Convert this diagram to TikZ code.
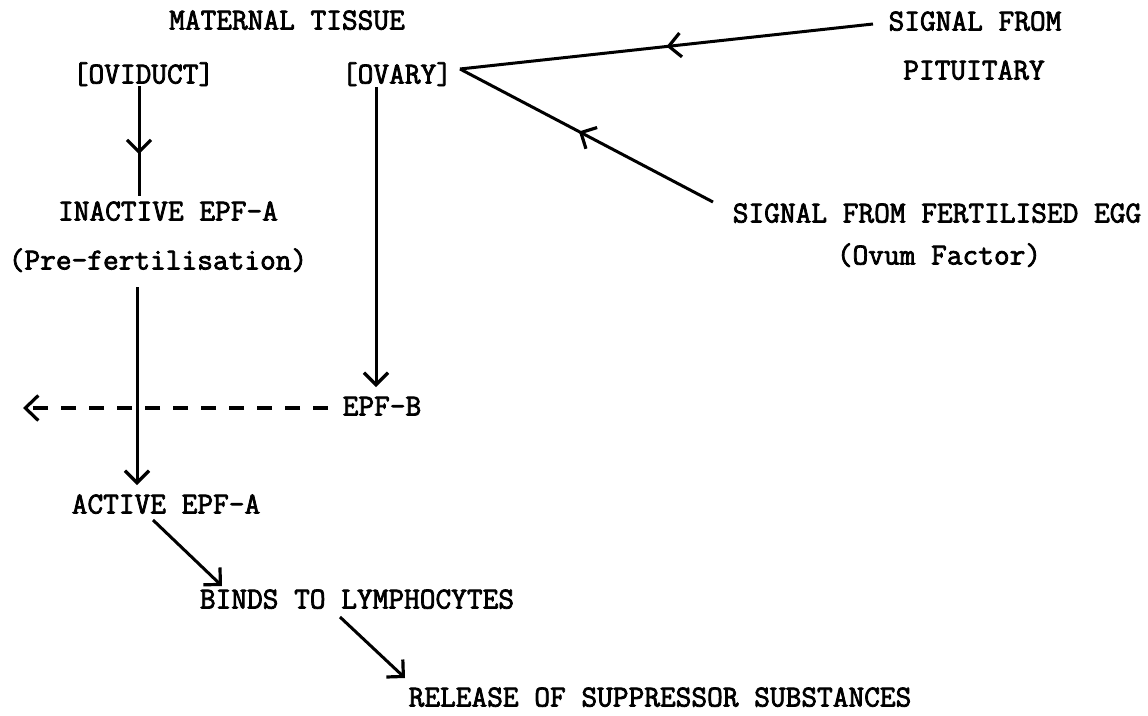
\documentclass[tikz,border=0pt]{standalone}
\usepackage{fontspec}
\newfontfamily\tw{Latin Modern Mono}[FakeBold=2.5]
\usetikzlibrary{arrows.meta,decorations.markings}
\tikzset{
  lbl/.style={inner sep=0pt, text height=15pt, text depth=0pt, font=\tw\fontsize{30.5}{34}\selectfont},
  ln/.style={line width=3pt},
  tip/.style={-{Straight Barb[length=12pt,width=24pt,line width=3.2pt]}},
  midtip/.style={postaction={decorate}, decoration={markings, mark=at position #1 with {\arrow{Straight Barb[length=12pt,width=24pt,line width=3.2pt]}}}},
  dsh/.style={line width=3.8pt, dash pattern=on 15pt off 13pt}
}
\begin{document}
\begin{tikzpicture}[x=1pt,y=-1pt]
\useasboundingbox (0,0) rectangle (1148,715);
\node[lbl] (mat) at (287,22) {MATERNAL TISSUE};
\node[lbl] (ovid) at (143.5,76) {[OVIDUCT]};
\node[lbl] (ovary) at (397,76) {[OVARY]};
\node[lbl] (pit1) at (975,23) {SIGNAL FROM};
\node[lbl] (pit2) at (974,72) {PITUITARY};
\node[lbl] (inact) at (168,213) {INACTIVE EPF-A};
\node[lbl] (pref) at (158,262) {(Pre-fertilisation)};
\node[lbl] (egg) at (937,215) {SIGNAL FROM FERTILISED EGG};
\node[lbl] (ovum) at (939,257) {(Ovum Factor)};
\node[lbl] (epfb) at (382,408) {EPF-B};
\node[lbl] (act) at (166,506) {ACTIVE EPF-A};
\node[lbl] (binds) at (357,601) {BINDS TO LYMPHOCYTES};
\node[lbl] (rel) at (660,699) {RELEASE OF SUPPRESSOR SUBSTANCES};

\coordinate (ovJ) at ([xshift=63pt,yshift=7pt]ovary.center);
\coordinate (dashEnd) at ([xshift=-359pt]epfb.center);
\coordinate (ovidOut) at ([xshift=-4.5pt,yshift=-10pt]ovid.center);
\coordinate (inactIn) at ([xshift=-29pt,yshift=17pt]inact.center);
\coordinate (ovaryOut) at ([xshift=-21pt,yshift=-11pt]ovary.center);
\coordinate (epfbIn) at ([xshift=-6pt,yshift=21pt]epfb.center);
\coordinate (prefOut) at ([xshift=-21pt,yshift=-25pt]pref.center);
\coordinate (actIn) at ([xshift=-29pt,yshift=21pt]act.center);
\coordinate (pitOut) at ([xshift=-102pt,yshift=-1pt]pit1.center);
\coordinate (eggOut) at ([xshift=-224pt,yshift=13pt]egg.center);
\coordinate (epfbOut) at ([xshift=-54pt]epfb.center);
\coordinate (actOut) at ([xshift=-13pt,yshift=-14pt]act.center);
\coordinate (bindsIn) at ([xshift=-135pt,yshift=15pt]binds.center);
\coordinate (bindsOut) at ([xshift=-17pt,yshift=-16pt]binds.center);
\coordinate (relIn) at ([xshift=-255pt,yshift=21pt]rel.center);

% oviduct -> inactive (mid arrow)
\draw[ln, midtip=0.62] (ovidOut) -- (inactIn);
% ovary -> EPF-B
\draw[ln, tip] (ovaryOut) -- (epfbIn);
% pituitary -> ovary
\draw[ln, midtip=0.5] (pitOut) -- (ovJ);
% fertilised egg -> ovary
\draw[ln, midtip=0.53] (eggOut) -- (ovJ);
% inactive -> active
\draw[ln, tip] (prefOut) -- (actIn);
% EPF-B dashed
\draw[dsh, -{Straight Barb[length=13pt,width=25pt,line width=3.2pt]}] (epfbOut) -- (dashEnd);
% active -> binds
\draw[ln, tip] (actOut) -- (bindsIn);
% binds -> release
\draw[ln, tip] (bindsOut) -- (relIn);
\end{tikzpicture}
\end{document}
